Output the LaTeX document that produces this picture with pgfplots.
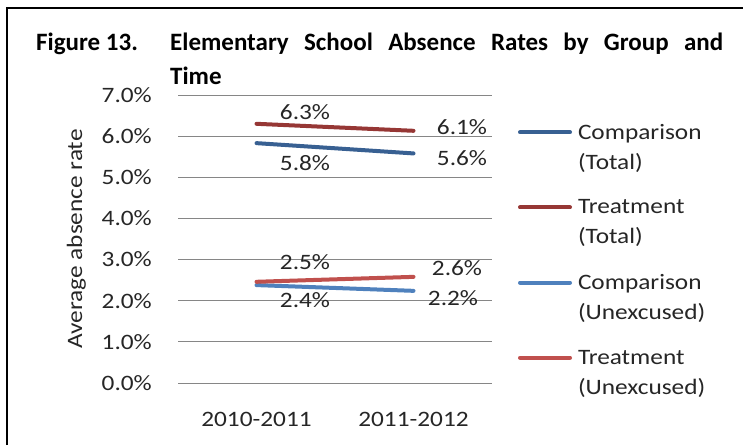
\documentclass[border=0pt]{standalone}
\usepackage{fontspec}
\setmainfont{Carlito}
\newfontfamily\chartfont{Carlito}[FakeStretch=1.15]
\usepackage{pgfplots}
\usepackage{pgfplotstable}
\pgfplotsset{compat=1.18}

\definecolor{comptotal}{RGB}{56,96,146}
\definecolor{treattotal}{RGB}{150,55,53}
\definecolor{compunex}{RGB}{79,129,189}
\definecolor{treatunex}{RGB}{192,80,77}
\definecolor{gridgray}{RGB}{134,134,134}
\definecolor{labeltext}{RGB}{38,38,38}

% absence rates in percent; dx/dy place each value label relative to its point
\pgfplotstableread{
x y dx dy
0 5.83 48.5 -20
1 5.58 48.5 -5
}\comptotaldata
\pgfplotstableread{
x y dx dy
0 6.30 48.5 12
1 6.13 48.5 4
}\treattotaldata
\pgfplotstableread{
x y dx dy
0 2.38 48.5 -15
1 2.24 39.5 -7
}\compunexdata
\pgfplotstableread{
x y dx dy
0 2.46 48.5 20
1 2.58 43.5 9
}\treatunexdata

\begin{document}
\begin{tikzpicture}[font=\chartfont\fontsize{22}{30}\selectfont]
\path[use as bounding box] (0,0) rectangle (743pt,445pt);
\draw[line width=2pt] (7pt,0pt) -- (7pt,437pt) -- (743pt,437pt);

\node[anchor=base west, inner sep=0pt, font=\rmfamily\bfseries\fontsize{25}{34}\selectfont]
  at (36pt,394pt) {Figure 13.};
\node[anchor=base west, inner sep=0pt, font=\rmfamily\bfseries\fontsize{25}{34}\selectfont]
  at (170pt,394pt) {\begin{minipage}[t]{553pt}\hyphenpenalty=10000
  Elementary School Absence Rates by Group and\linebreak Time\end{minipage}};

\begin{axis}[
  at={(178pt,62pt)}, anchor=south west,
  scale only axis, width=314pt, height=288pt,
  clip=false,
  xmin=-0.5, xmax=1.5, ymin=0, ymax=7,
  xtick={0,1}, xticklabels={2010-2011,2011-2012},
  ytick={0,1,2,3,4,5,6,7},
  yticklabel={\pgfmathprintnumber[fixed,precision=1,zerofill,assume math mode=true]{\tick}\%},
  ymajorgrids, grid style={gridgray, line width=1pt},
  axis line style={draw=none}, major tick style={draw=none},
  yticklabel style={anchor=east, inner sep=0pt, xshift=-26pt, text=labeltext},
  xticklabel style={anchor=base, inner sep=0pt, yshift=-43pt, text=labeltext},
  ylabel={Average absence rate},
  ylabel style={at={(axis description cs:-0.3057,0.5)}, anchor=base, inner sep=0pt, text=labeltext},
  legend cell align=left,
  legend style={at={(axis description cs:1.0828,0.8993)}, anchor=north west,
    draw=none, fill=none, inner sep=0pt, outer sep=0pt,
    row sep=29pt, column sep=6pt, text=labeltext,
    nodes={inner sep=0pt, align=left}},
  legend image code/.code={\draw[#1, line width=4pt, line cap=round] (0pt,15pt) -- (50pt,15pt);},
  series/.style={line width=4pt, line cap=round},
  labels/.style={
    draw=none, forget plot,
    point meta=y,
    visualization depends on={\thisrow{dx}\as\labdx},
    visualization depends on={\thisrow{dy}\as\labdy},
    nodes near coords={\pgfmathprintnumber[fixed,precision=1,zerofill,assume math mode=true]{\pgfplotspointmeta}\%},
    every node near coord/.append style={anchor=center, inner sep=0pt,
      xshift=\labdx pt, yshift=\labdy pt, text=labeltext},
  },
]
\addplot[comptotal, series] table[x=x, y=y] {\comptotaldata};
\addlegendentry{Comparison\\(Total)}
\addplot[treattotal, series] table[x=x, y=y] {\treattotaldata};
\addlegendentry{Treatment\\(Total)}
\addplot[compunex, series] table[x=x, y=y] {\compunexdata};
\addlegendentry{Comparison\\(Unexcused)}
\addplot[treatunex, series] table[x=x, y=y] {\treatunexdata};
\addlegendentry{Treatment\\(Unexcused)}

% value labels
\addplot[labels] table[x=x, y=y] {\comptotaldata};
\addplot[labels] table[x=x, y=y] {\treattotaldata};
\addplot[labels] table[x=x, y=y] {\compunexdata};
\addplot[labels] table[x=x, y=y] {\treatunexdata};
\end{axis}
\end{tikzpicture}
\end{document}
